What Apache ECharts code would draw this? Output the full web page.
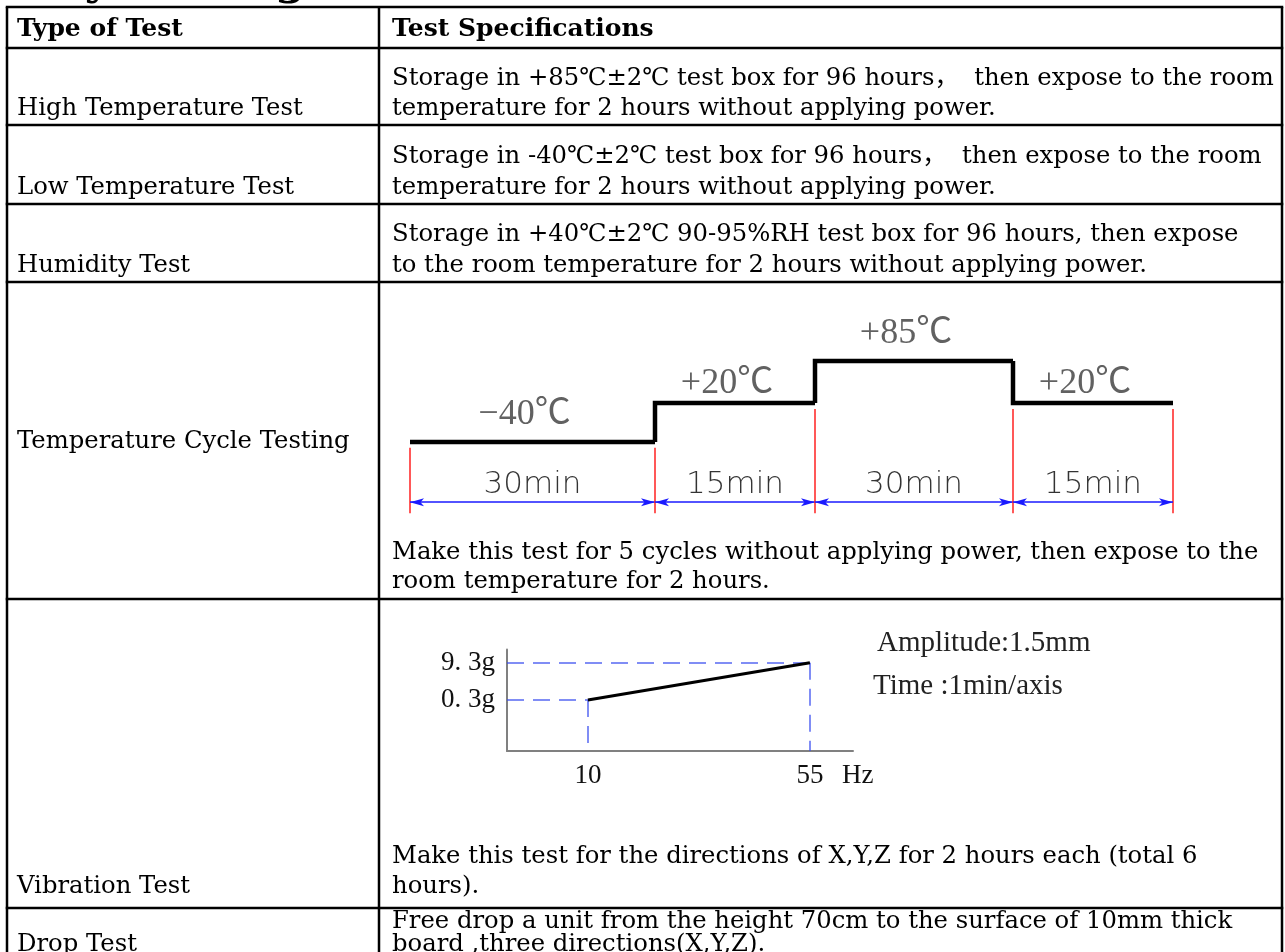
<!DOCTYPE html>
<html><head><meta charset="utf-8">
<script src="https://cdn.jsdelivr.net/npm/echarts@6/dist/echarts.min.js"></script>
<style>html,body{margin:0;padding:0;background:#fff}#c{width:1285px;height:952px}</style>
</head><body><div id="c"></div>
<script>
// ---------- data ----------
const titleText = 'Reliability Testing';
const headers = ['Type of Test', 'Test Specifications'];
const testTypes = ['High Temperature Test', 'Low Temperature Test', 'Humidity Test',
  'Temperature Cycle Testing', 'Vibration Test', 'Drop Test'];
const specLines = [
  ['Storage in +85℃±2℃ test box for 96 hours，  then expose to the room', 'temperature for 2 hours without applying power.'],
  ['Storage in -40℃±2℃ test box for 96 hours，  then expose to the room', 'temperature for 2 hours without applying power.'],
  ['Storage in +40℃±2℃ 90-95%RH test box for 96 hours, then expose', 'to the room temperature for 2 hours without applying power.'],
  ['Make this test for 5 cycles without applying power, then expose to the', 'room temperature for 2 hours.'],
  ['Make this test for the directions of X,Y,Z for 2 hours each (total 6', 'hours).'],
  ['Free drop a unit from the height 70cm to the surface of 10mm thick', 'board ,three directions(X,Y,Z).']
];
const cycleTemps = [-40, 20, 85, 20];
const cycleTempLabels = ['−40℃', '+20℃', '+85℃', '+20℃'];
const cycleMinutes = [30, 15, 30, 15];
const vibFreqHz = [10, 55];
const vibAccelG = [0.3, 9.3];
const vibUnit = 'Hz';
const vibNotes = ['Amplitude:1.5mm', 'Time :1min/axis'];

// ---------- layout ----------
const rowY = [7, 48, 125, 204, 282, 599, 908];
const colX = [7, 379, 1282];
const leftTextY = [109, 188, 266, 442, 887, 945];
const specTextY = [[79, 109], [157, 188], [235, 266], [553, 582], [857, 887], [922, 945]];
const bodyFont = '24.3px "DejaVu Serif", "Noto Sans CJK SC"';
const boldFont = 'bold 25px "DejaVu Serif", "Noto Sans CJK SC"';

const graphic = [];
rowY.forEach(y => graphic.push({type:'line', shape:{x1:colX[0]-1.25, y1:y, x2:colX[2]+1.25, y2:y}, style:{stroke:'#000', lineWidth:2.5}}));
colX.forEach(x => graphic.push({type:'line', shape:{x1:x, y1:rowY[0], x2:x, y2:960}, style:{stroke:'#000', lineWidth:2.5}}));
graphic.push({type:'text', x:-143, y:-17, style:{text:titleText, font:'bold 44px "DejaVu Serif"', fill:'#000', verticalAlign:'middle'}});
graphic.push({type:'text', x:17, y:29, style:{text:headers[0], font:boldFont, fill:'#000', verticalAlign:'middle'}});
graphic.push({type:'text', x:392, y:29, style:{text:headers[1], font:boldFont, fill:'#000', verticalAlign:'middle'}});
testTypes.forEach((t, i) => {
  graphic.push({type:'text', x:17, y:leftTextY[i], style:{text:t, font:bodyFont, fill:'#000', verticalAlign:'middle'}});
  specLines[i].forEach((s, j) => graphic.push({type:'text', x:392, y:specTextY[i][j], style:{text:s, font:bodyFont, fill:'#000', verticalAlign:'middle'}}));
});
graphic.push({type:'text', x:877, y:643, style:{text:vibNotes[0], font:'29px "Liberation Serif"', fill:'#222', verticalAlign:'middle'}});
graphic.push({type:'text', x:873, y:686, style:{text:vibNotes[1], font:'29px "Liberation Serif"', fill:'#222', verticalAlign:'middle'}});

// temperature cycle: one grid per stage (schematic widths)
const segLeft = [410, 655, 815, 1013];
const segWidth = [245, 160, 198, 160];
const tMin = -160, tMax = 180, dimT = -133, extBottom = -150;
const grids = [], xAxes = [], yAxes = [], series = [];
cycleMinutes.forEach((dur, i) => {
  grids.push({left: segLeft[i], width: segWidth[i], top: 299.4, height: 220.3});
  xAxes.push({type:'value', gridIndex:i, min:0, max:dur, show:false});
  yAxes.push({type:'value', gridIndex:i, min:tMin, max:tMax, show:false});
  const temp = cycleTemps[i];
  const prev = i > 0 ? cycleTemps[i-1] : temp;
  const data = i > 0 ? [[0, prev], [0, temp], [dur, temp]] : [[0, temp], [dur, temp]];
  series.push({type:'line', xAxisIndex:i, yAxisIndex:i, data, symbol:'none', silent:true, z:5,
    lineStyle:{color:'#000', width:4.5, join:'miter'}});
  const ext = [[{coord:[0, Math.min(prev, temp) - 9]}, {coord:[0, extBottom]}]];
  if (i === cycleMinutes.length - 1) ext.push([{coord:[dur, temp - 9]}, {coord:[dur, extBottom]}]);
  series.push({type:'scatter', xAxisIndex:i, yAxisIndex:i, symbolSize:0, silent:true,
    data:[
      {value:[dur/2, temp], label:{show:true, position:'top', distance:temp === 20 ? 2 : 9, offset:[-8,0], formatter:cycleTempLabels[i],
        fontFamily:'"Liberation Serif", "Noto Sans CJK SC"', fontSize:36, color:'#3a3a3a'}},
      {value:[dur/2, dimT], label:{show:true, position:'top', distance:2, formatter:dur + 'min',
        fontFamily:'"DejaVu Sans"', fontWeight:200, fontSize:31, color:'#000'}}
    ],
    markLine:{silent:true, symbol:'none', label:{show:false}, animation:false,
      lineStyle:{color:'#ff2020', width:1.5, type:'solid'},
      data: ext.concat([[{coord:[0, dimT], symbol:'arrow', symbolSize:[6,14], lineStyle:{color:'#1a1aff', width:1.6}},
                         {coord:[dur, dimT], symbol:'arrow', symbolSize:[6,14]}]])}
  });
});

// vibration profile
const vx = [-6.4, 63.74], vy = [-12, 12.5];
grids.push({left: 507, width: 346, top: 649.4, height: 101.5});
xAxes.push({type:'value', gridIndex:4, min:vx[0], max:vx[1], splitLine:{show:false},
  axisLine:{show:true, onZero:false, lineStyle:{color:'#808080', width:2}}, axisTick:{show:false},
  axisLabel:{customValues:vibFreqHz, margin:12, fontFamily:'"Liberation Serif"', fontSize:27, color:'#111'},
  name:'\n\n' + vibUnit, nameLocation:'end', nameGap:-11,
  nameTextStyle:{fontFamily:'"Liberation Serif"', fontSize:27, lineHeight:25, color:'#111', verticalAlign:'middle', align:'left'}});
yAxes.push({type:'value', gridIndex:4, min:vy[0], max:vy[1], splitLine:{show:false},
  axisLine:{show:true, onZero:false, lineStyle:{color:'#808080', width:2}}, axisTick:{show:false},
  axisLabel:{customValues:vibAccelG, margin:12, formatter:v => v.toFixed(1).replace('.', '. ') + 'g',
    fontFamily:'"Liberation Serif"', fontSize:27, color:'#111'}});
series.push({type:'line', xAxisIndex:4, yAxisIndex:4, data:vibFreqHz.map((f, k) => [f, vibAccelG[k]]),
  symbol:'none', silent:true, z:5, lineStyle:{color:'#000', width:3},
  markLine:{silent:true, symbol:'none', label:{show:false}, animation:false, z:2,
    lineStyle:{color:'#3a4cf0', width:1.5, type:[17,9], opacity:0.85},
    data: vibFreqHz.flatMap((f, k) => [
      [{coord:[vx[0], vibAccelG[k]]}, {coord:[f, vibAccelG[k]]}],
      [{coord:[f, vibAccelG[k]]}, {coord:[f, vy[0]]}]
    ])}
});

const chart = echarts.init(document.getElementById('c'));
chart.setOption({animation:false, backgroundColor:'#fff', grid:grids, xAxis:xAxes, yAxis:yAxes, series, graphic});
</script></body></html>
